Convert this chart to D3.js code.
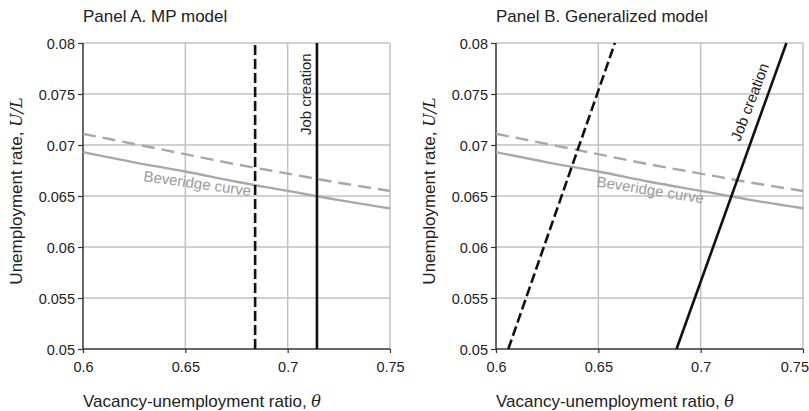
<!DOCTYPE html>
<html>
<head>
<meta charset="utf-8">
<script src="https://cdn.jsdelivr.net/npm/d3@7"></script>
<style>
  html, body { margin: 0; padding: 0; background: #fff; }
  svg { display: block; font-family: "Liberation Sans", Arial, Helvetica, sans-serif; }
</style>
</head>
<body>
<svg id="chart" width="809" height="411"></svg>
<script>
// ---------------- data ----------------
const panelTitles = ["Panel A. MP model", "Panel B. Generalized model"];
const xTicks = [0.6, 0.65, 0.7, 0.75];
const xTickLabels = ["0.6", "0.65", "0.7", "0.75"];
const yTicks = [0.05, 0.055, 0.06, 0.065, 0.07, 0.075, 0.08];
const yTickLabels = ["0.05", "0.055", "0.06", "0.065", "0.07", "0.075", "0.08"];

// Beveridge curves (same in both panels)
const bevTheta   = [0.6, 0.625, 0.65, 0.675, 0.7, 0.725, 0.75];
const bevSolid   = [0.0693, 0.0683, 0.0674, 0.0664, 0.0655, 0.0646, 0.0638];
const bevDashed  = [0.0711, 0.0701, 0.0691, 0.0681, 0.0672, 0.0663, 0.0655];

// Job creation curves, panel A (vertical)
const jcA_solid_theta  = [0.7143, 0.7143];
const jcA_dashed_theta = [0.6841, 0.6841];
const jcA_u            = [0.05, 0.08];

// Job creation curves, panel B (upward sloping)
const jcB_solid_theta  = [0.6882, 0.7419];
const jcB_dashed_theta = [0.6060, 0.6581];
const jcB_u            = [0.05, 0.08];

// ---------------- layout ----------------
const svg = d3.select("#chart");
const panels = [
  { left: 83,  right: 390 },
  { left: 496, right: 803 }
];
const plotTop = 43, plotBottom = 349;
const gridColor = "#c2c2c2";
const axisColor = "#333";
const textColor = "#222";
const bevColor = "#a8a8a8";

panels.forEach((p, i) => {
  const x = d3.scaleLinear().domain([0.6, 0.75]).range([p.left, p.right]);
  const y = d3.scaleLinear().domain([0.05, 0.08]).range([plotBottom, plotTop]);
  const g = svg.append("g");

  // grid
  g.append("g").selectAll("line").data(xTicks.slice(1)).join("line")
    .attr("x1", d => x(d)).attr("x2", d => x(d))
    .attr("y1", plotTop).attr("y2", plotBottom)
    .attr("stroke", gridColor).attr("stroke-width", 1.5);
  g.append("g").selectAll("line").data(yTicks.slice(1)).join("line")
    .attr("x1", p.left).attr("x2", p.right)
    .attr("y1", d => y(d)).attr("y2", d => y(d))
    .attr("stroke", gridColor).attr("stroke-width", 1.5);

  // axes
  const xAxis = d3.axisBottom(x).tickValues(xTicks)
    .tickFormat((d, k) => xTickLabels[k]).tickSize(4).tickPadding(9);
  const yAxis = d3.axisLeft(y).tickValues(yTicks)
    .tickFormat((d, k) => yTickLabels[k]).tickSize(5).tickPadding(3);

  const gx = g.append("g").attr("transform", `translate(0,${plotBottom})`).call(xAxis);
  const gy = g.append("g").attr("transform", `translate(${p.left},0)`).call(yAxis);
  [gx, gy].forEach(a => {
    a.select(".domain").attr("stroke", axisColor).attr("stroke-width", 1.5);
    a.selectAll(".tick line").attr("stroke", axisColor).attr("stroke-width", 1.2);
    a.selectAll(".tick text").attr("fill", textColor)
      .style("font-size", "14.5px").style("font-family", "'Liberation Sans', Arial, sans-serif");
  });
  gx.select(".domain").attr("d", `M${p.left},0H${p.right}`);
  gy.select(".domain").attr("d", `M0,${plotBottom}V${plotTop}`);
  gy.selectAll(".tick text").attr("dy", "0.4em");
  if (i === 1) {
    // keep the last tick label inside the picture
    gx.selectAll(".tick text").filter((d, k) => k === xTicks.length - 1)
      .attr("text-anchor", "end").attr("x", 5.5);
  }

  // Beveridge curves
  const line = d3.line().x(d => x(d[0])).y(d => y(d[1])).curve(d3.curveMonotoneX);
  g.append("path").datum(bevTheta.map((t, k) => [t, bevDashed[k]]))
    .attr("d", line).attr("fill", "none").attr("stroke", bevColor)
    .attr("stroke-width", 2.4).attr("stroke-dasharray", "13,7");
  g.append("path").datum(bevTheta.map((t, k) => [t, bevSolid[k]]))
    .attr("d", line).attr("fill", "none").attr("stroke", bevColor)
    .attr("stroke-width", 2.4);

  // Job creation curves
  const jcLine = d3.line().x(d => x(d[0])).y(d => y(d[1]));
  const solidT = i === 0 ? jcA_solid_theta : jcB_solid_theta;
  const dashT  = i === 0 ? jcA_dashed_theta : jcB_dashed_theta;
  const uVals  = i === 0 ? jcA_u : jcB_u;
  g.append("path").datum(dashT.map((t, k) => [t, uVals[k]]))
    .attr("d", jcLine).attr("fill", "none").attr("stroke", "#111")
    .attr("stroke-width", 2.6).attr("stroke-dasharray", "10,4");
  g.append("path").datum(solidT.map((t, k) => [t, uVals[k]]))
    .attr("d", jcLine).attr("fill", "none").attr("stroke", "#111")
    .attr("stroke-width", 2.6);

  // titles
  svg.append("text").attr("x", p.left).attr("y", 21.5)
    .attr("fill", textColor).style("font-size", "17px")
    .text(panelTitles[i]);

  // x label
  const xl = svg.append("text").attr("x", p.left).attr("y", 406.5)
    .attr("fill", textColor).style("font-size", "17px");
  xl.append("tspan").text("Vacancy-unemployment ratio, ");
  xl.append("tspan").style("font-family", "'DejaVu Serif', serif")
    .style("font-style", "italic").style("font-size", "16px").text("θ");

  // y label
  const yl = svg.append("text")
    .attr("transform", `translate(${p.left - 61},191) rotate(-90)`)
    .attr("text-anchor", "middle")
    .attr("fill", textColor).style("font-size", "17px");
  yl.append("tspan").text("Unemployment rate, ");
  yl.append("tspan").style("font-family", "'DejaVu Serif', serif")
    .style("font-style", "italic").style("font-size", "16px").text("U/L");

  // curve labels
  if (i === 0) {
    svg.append("text").attr("transform", "translate(143,181) rotate(8)")
      .attr("fill", "#9a9a9a").style("font-size", "15px").text("Beveridge curve");
    svg.append("text").attr("transform", "translate(311,135) rotate(-90)")
      .attr("fill", textColor).style("font-size", "15px").text("Job creation");
  } else {
    svg.append("text").attr("transform", "translate(596,186.5) rotate(9)")
      .attr("fill", "#9a9a9a").style("font-size", "15px").text("Beveridge curve");
    svg.append("text").attr("transform", "translate(740,142) rotate(-69)")
      .attr("fill", textColor).style("font-size", "15px").text("Job creation");
  }
});
</script>
</body>
</html>
